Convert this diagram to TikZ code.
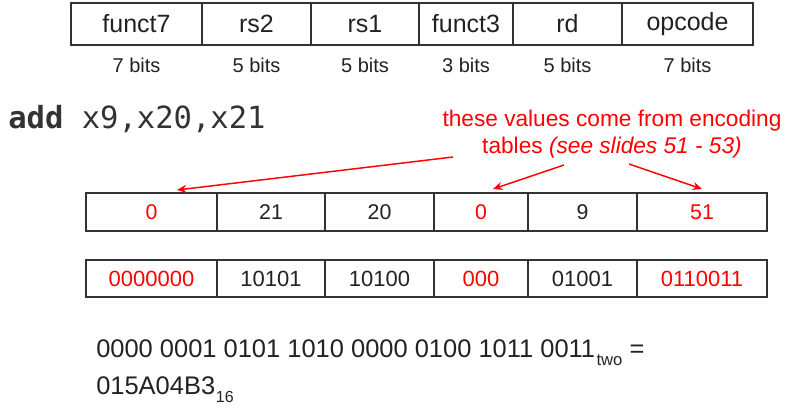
\documentclass[tikz,border=0pt]{standalone}
\usepackage{fontspec}
\setmainfont{Liberation Sans}
\newfontfamily\codefont{DejaVu Sans Mono}
\usetikzlibrary{arrows.meta}
\definecolor{ink}{HTML}{222222}
\definecolor{frame}{HTML}{333333}
\definecolor{hot}{HTML}{FF0000}
\newcommand\fieldcell[7]{\node[cell,#6,minimum width={(#3-#2)*0.75pt},minimum height={(#5-#4)*0.75pt}] (#1) at ({(#2+#3)/2},{(#4+#5)/2}) {#7};}
\begin{document}
\begin{tikzpicture}[x=0.75pt,y=-0.75pt,
  cell/.style={draw=frame, line width=1.5pt, inner sep=0pt, anchor=center, text=ink},
  headtxt/.style={font=\fontsize{18.75}{22}\selectfont},
  valtxt/.style={font=\fontsize{16}{19}\selectfont},
  bintxt/.style={font=\fontsize{16.5}{19}\selectfont},
  redv/.style={text=hot},
  bitlbl/.style={text=ink, inner sep=0pt, font=\fontsize{15}{18}\selectfont, anchor=base},
  note/.style={text=hot, inner sep=0pt, anchor=base, font=\fontsize{17}{20}\selectfont},
  callout/.style={draw=hot, line width=1.1pt, -{Stealth[length=7pt,width=6pt]}},
  plain/.style={text=ink, inner sep=0pt, anchor=base west, font=\fontsize{19.1}{22}\selectfont}]
\useasboundingbox (0,0) rectangle (787,408);
% format table
\fieldcell{f7}{71}{202}{3}{45}{headtxt}{funct7}
\fieldcell{rs2}{202}{311}{3}{45}{headtxt}{rs2}
\fieldcell{rs1}{311}{419}{3}{45}{headtxt}{rs1}
\fieldcell{f3}{419}{513}{3}{45}{headtxt}{funct3}
\fieldcell{rd}{513}{622}{3}{45}{headtxt}{rd}
\fieldcell{op}{622}{753}{3}{45}{headtxt}{opcode}
\node[bitlbl] (b1) at (136.5,72) {7 bits};
\node[bitlbl] (b2) at (256.5,72) {5 bits};
\node[bitlbl] (b3) at (365,72) {5 bits};
\node[bitlbl] (b4) at (466,72) {3 bits};
\node[bitlbl] (b5) at (567.5,72) {5 bits};
\node[bitlbl] (b6) at (687.5,72) {7 bits};
% instruction
\node[inner sep=0pt, anchor=base west, text=frame, font=\fontsize{22.9}{26}\codefont] (instr) at (8,128) {\textbf{add} x9,x20,x21};
% note
\node[note] (note1) at (612,126) {these values come from encoding};
\node[note] (note2) at (612,153) {tables \textit{(see slides 51 - 53)}};
% decimal table
\fieldcell{d1}{86}{217}{193}{231}{valtxt,redv}{0}
\fieldcell{d2}{217}{325}{193}{231}{valtxt}{21}
\fieldcell{d3}{325}{434}{193}{231}{valtxt}{20}
\fieldcell{d4}{434}{528}{193}{231}{valtxt,redv}{0}
\fieldcell{d5}{528}{637}{193}{231}{valtxt}{9}
\fieldcell{d6}{637}{767}{193}{231}{valtxt,redv}{51}
% binary table
\fieldcell{e1}{86}{217}{260}{297}{bintxt,redv}{0000000}
\fieldcell{e2}{217}{325}{260}{297}{bintxt}{10101}
\fieldcell{e3}{325}{434}{260}{297}{bintxt}{10100}
\fieldcell{e4}{434}{528}{260}{297}{bintxt,redv}{000}
\fieldcell{e5}{528}{637}{260}{297}{bintxt}{01001}
\fieldcell{e6}{637}{767}{260}{297}{bintxt,redv}{0110011}
% arrows
\coordinate (s1) at (453,157);
\coordinate (s2) at (564,165);
\coordinate (s3) at (629,164);
\coordinate (t1) at (177,190);
\coordinate (t2) at (493,189);
\coordinate (t3) at (702,189);
\draw[callout] (s1) -- (t1);
\draw[callout] (s2) -- (t2);
\draw[callout] (s3) -- (t3);
% result
\node[plain] (bin) at (96,357) {0000 0001 0101 1010 0000 0100 1011 0011\hspace{1pt}\raisebox{-6pt}{\fontsize{12.5}{14}\selectfont two} =};
\node[plain] (hex) at (96,394) {015A04B3\hspace{0.5pt}\raisebox{-6pt}{\fontsize{12}{14}\selectfont 16}};
\end{tikzpicture}
\end{document}
